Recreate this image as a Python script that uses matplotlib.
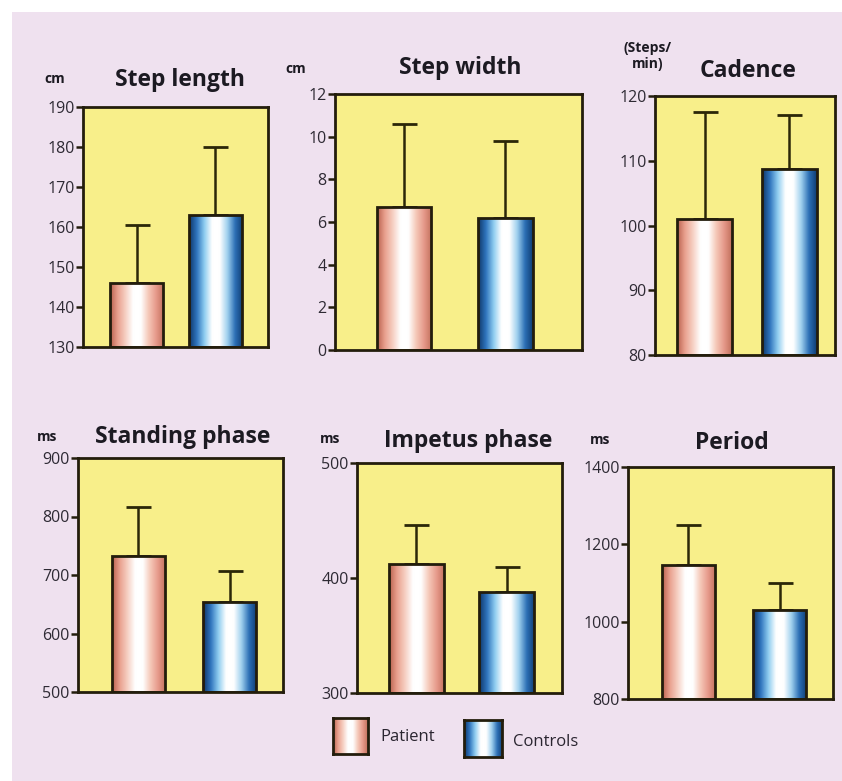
import numpy as np
import matplotlib.pyplot as plt
from matplotlib.colors import LinearSegmentedColormap
from matplotlib.patches import Rectangle

# gait parameters, patient vs. controls (mean and upper SD)
titles = ["Step length", "Step width", "Cadence",
          "Standing phase", "Impetus phase", "Period"]
units = ["cm", "cm", "(Steps/\nmin)", "ms", "ms", "ms"]
patient_mean = [146, 6.7, 101, 733, 412, 1147]
patient_sd = [14.5, 3.9, 16.5, 83, 34, 103]
control_mean = [163, 6.2, 108.7, 654, 388, 1030]
control_sd = [17, 3.6, 8.3, 53, 22, 70]
ylims = [(130, 190), (0, 12), (80, 120), (500, 900), (300, 500), (800, 1400)]
yticks = [[130, 140, 150, 160, 170, 180, 190],
          [0, 2, 4, 6, 8, 10, 12],
          [80, 90, 100, 110, 120],
          [500, 600, 700, 800, 900],
          [300, 400, 500],
          [800, 1000, 1200, 1400]]
groups = ["Patient", "Controls"]

W, H = 842, 781
BG = "#efe1ef"
PANEL = "#f8ef8a"
EDGE = "#231d0c"

# panel boxes in pixels: left, top, right, bottom
boxes = [(83, 107, 268, 347), (335, 94, 582, 350), (655, 96, 835, 355),
         (78, 458, 283, 692), (357, 463, 562, 693), (628, 467, 833, 699)]
# bar centres (axes fraction) and bar width
centres = [(0.29, 0.716), (0.28, 0.69), (0.275, 0.747),
           (0.295, 0.74), (0.29, 0.73), (0.295, 0.74)]
bar_w = [0.29, 0.22, 0.305, 0.26, 0.27, 0.26]
title_x = [180, 460, 748, 183, 468, 732]
title_y = [80, 68, 71, 437, 441, 443]
unit_pos = [(55, 79), (296, 69), (648, 56), (47, 437), (330, 439), (600, 440)]

pink = LinearSegmentedColormap.from_list(
    "pink", ["#b8604c", "#e9a08e", "#f6cfc2", "#ffffff", "#ffffff",
             "#f5c8b8", "#e6998a", "#c2705c"])
blue = LinearSegmentedColormap.from_list(
    "blue", ["#0e3566", "#2f74bd", "#8fcdf0", "#ffffff", "#ffffff",
             "#9fd0ee", "#2c6fb5", "#0f3c72"])
cmaps = [pink, blue]
grad = np.linspace(0, 1, 256).reshape(1, -1)

plt.rcParams['font.family'] = ['Open Sans', 'DejaVu Sans']

fig = plt.figure(figsize=(W / 100, H / 100), dpi=100, facecolor=BG)
# white page margin
fig.patches.append(Rectangle((0, 1 - 12 / H), 1, 12 / H, transform=fig.transFigure,
                             facecolor="white", edgecolor="none", zorder=0))
fig.patches.append(Rectangle((0, 0), 12 / W, 1, transform=fig.transFigure,
                             facecolor="white", edgecolor="none", zorder=0))


def fx(px):
    return px / W


def fy(py):
    return 1 - py / H


for i in range(6):
    l, t, r, b = boxes[i]
    ax = fig.add_axes([fx(l), fy(b), fx(r - l), (b - t) / H])
    ax.set_facecolor(PANEL)
    lo = ylims[i][0]
    means = [patient_mean[i], control_mean[i]]
    sds = [patient_sd[i], control_sd[i]]
    for j in range(2):
        bars = ax.bar(centres[i][j], means[j] - lo, bottom=lo, width=bar_w[i],
                      facecolor="none", edgecolor=EDGE, linewidth=2, zorder=3)
        patch = bars.patches[0]
        x0 = centres[i][j] - bar_w[i] / 2
        im = ax.imshow(grad, cmap=cmaps[j], aspect="auto", interpolation="bicubic",
                       extent=(x0, x0 + bar_w[i], lo, means[j]), zorder=2)
        im.set_clip_path(patch)
        ax.errorbar(centres[i][j], means[j], yerr=[[0], [sds[j]]], fmt="none",
                    ecolor="#2b2708", elinewidth=1.8, capsize=9, capthick=2, zorder=1)
    ax.set_xlim(0, 1)
    ax.set_ylim(*ylims[i])
    ax.set_yticks(yticks[i])
    ax.set_xticks([])
    ax.tick_params(axis="y", direction="out", length=5, width=1.8, color=EDGE,
                   labelsize=11.5, labelcolor="#2e2a34", pad=1)
    for s in ax.spines.values():
        s.set_color(EDGE)
        s.set_linewidth(2)
    fig.text(fx(title_x[i]), fy(title_y[i]), titles[i], ha="center", va="center",
             fontsize=16.5, fontweight="bold", color="#1c1a22")
    ux, uy = unit_pos[i]
    fig.text(fx(ux), fy(uy), units[i], ha="center", va="center", fontsize=10,
             fontweight="bold", color="#1c1a22", linespacing=1.25)

# legend swatches
leg = [(333, 718, 368, 754, 380, 737), (464, 720, 502, 757, 513, 742)]
for j in range(2):
    l, t, r, b, tx, ty = leg[j]
    lax = fig.add_axes([fx(l), fy(b), fx(r - l), (b - t) / H])
    lax.imshow(grad, cmap=cmaps[j], aspect="auto", interpolation="bicubic")
    lax.set_xticks([])
    lax.set_yticks([])
    for s in lax.spines.values():
        s.set_color(EDGE)
        s.set_linewidth(2)
    fig.text(fx(tx), fy(ty), groups[j], ha="left", va="center", fontsize=12,
             color="#2a2530")

fig.savefig("out.png", dpi=100, facecolor=BG)
